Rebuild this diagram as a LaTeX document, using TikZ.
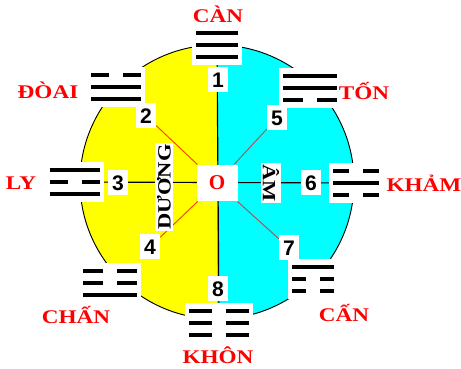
\documentclass[tikz,border=0pt]{standalone}
\usepackage{fontspec}
\setmainfont{Liberation Serif}
\newfontfamily\widefont[FakeStretch=1.2]{Liberation Serif}
\newfontfamily\numfont{Liberation Sans}
\usepackage{tikz}
\usetikzlibrary{backgrounds}
\definecolor{duong}{RGB}{255,255,0}
\definecolor{am}{RGB}{0,255,255}
\definecolor{leftray}{RGB}{255,64,0}
\definecolor{rightray}{RGB}{176,80,80}
\tikzset{
    guaname/.style={text=red, inner sep=0pt, font=\widefont\bfseries\fontsize{16.5}{17}\selectfont},
    sobox/.style={fill=white, inner sep=0pt, minimum width=6mm, minimum height=7.5mm,
        font=\numfont\bfseries\fontsize{18}{18}\selectfont},
    guabox/.style={fill=white, inner sep=0pt, minimum height=12mm},
    hao/.style={line width=3.2pt},
    sidebox/.style={fill=white, inner sep=1.5pt, font=\widefont\bfseries\fontsize{16}{16}\selectfont},
}

\begin{document}
\begin{tikzpicture}[x=0.3mm, y=-0.3mm]
    \useasboundingbox (0,0) rectangle (461,369);
    \coordinate (C) at (217,182);

    % trigrams: name/x/y/half width/lines from top to bottom (1 = whole, 0 = broken)
    \foreach \g/\x/\y/\w/\a/\b/\c in {
        can/217/45/21/1/1/1, doai/116/87/25/0/1/1, ly/75/182/25/1/0/1, chan/110/283/27/0/0/1,
        ton/310/88/27/1/1/0, kham/356/183/23/0/1/0, canb/313/279/21/1/0/0, khon/219/323/30/0/0/0}{
        \node[guabox, minimum width=\w*0.6mm+2.4mm] (\g) at (\x,\y) {};
        \foreach \h [count=\i] in {\a,\b,\c}{
            \ifnum\h=1
                \draw[hao] (\g.center) ++(-\w,12*\i-24) -- ++(2*\w,0);
            \else
                \draw[hao] (\g.center) ++(-\w,12*\i-24) -- ++(\w-7,0);
                \draw[hao] (\g.center) ++(\w,12*\i-24) -- ++(7-\w,0);
            \fi
        }
    }

    \node[guaname] (tcan) at (218,14) {CÀN};
    \node[guaname] (tdoai) at (48,90) {ĐÒAI};
    \node[guaname] (tly) at (21,183) {LY};
    \node[guaname] (tchan) at (76,315) {CHẤN};
    \node[guaname] (tton) at (364,91) {TỐN};
    \node[guaname] (tkham) at (424,183) {KHẢM};
    \node[guaname] (tcanb) at (344,313) {CẤN};
    \node[guaname] (tkhon) at (218,355) {KHÔN};

    \node[sobox] (n1) at (218,80) {1};
    \node[sobox] (n2) at (146,116) {2};
    \node[sobox] (n3) at (118,183) {3};
    \node[sobox] (n4) at (150,247) {4};
    \node[sobox] (n5) at (277,118) {5};
    \node[sobox] (n6) at (311,183) {6};
    \node[sobox] (n7) at (289,248) {7};
    \node[sobox] (n8) at (218,289) {8};

    \node[fill=white, minimum width=12.3mm, minimum height=11mm, text=red,
        font=\bfseries\fontsize{18}{18}\selectfont] (O) at (217,183) {O};
    \node[sidebox, rotate=90] (duong) at (164,187) {DƯƠNG};
    \node[sidebox, rotate=-90] (am) at (271,183) {ÂM};

    \begin{pgfonlayer}{background}
        \begin{scope}
            \clip (0,0) rectangle (217,369);
            \fill[duong] (C) circle[radius=137];
        \end{scope}
        \begin{scope}
            \clip (217,0) rectangle (461,369);
            \fill[am] (C) circle[radius=137];
        \end{scope}
        \draw[line width=0.8pt] (C) circle[radius=137];
        \draw[line width=1pt] (can) -- (khon);
        \draw[line width=1pt] (ly) -- (kham);
        \draw[leftray, line width=0.8pt] (O) -- (n2);
        \draw[leftray, line width=0.8pt] (O) -- (n4);
        \draw[rightray, line width=0.8pt] (O) -- (n5);
        \draw[rightray, line width=0.8pt] (O) -- (n7);
    \end{pgfonlayer}
\end{tikzpicture}
\end{document}
